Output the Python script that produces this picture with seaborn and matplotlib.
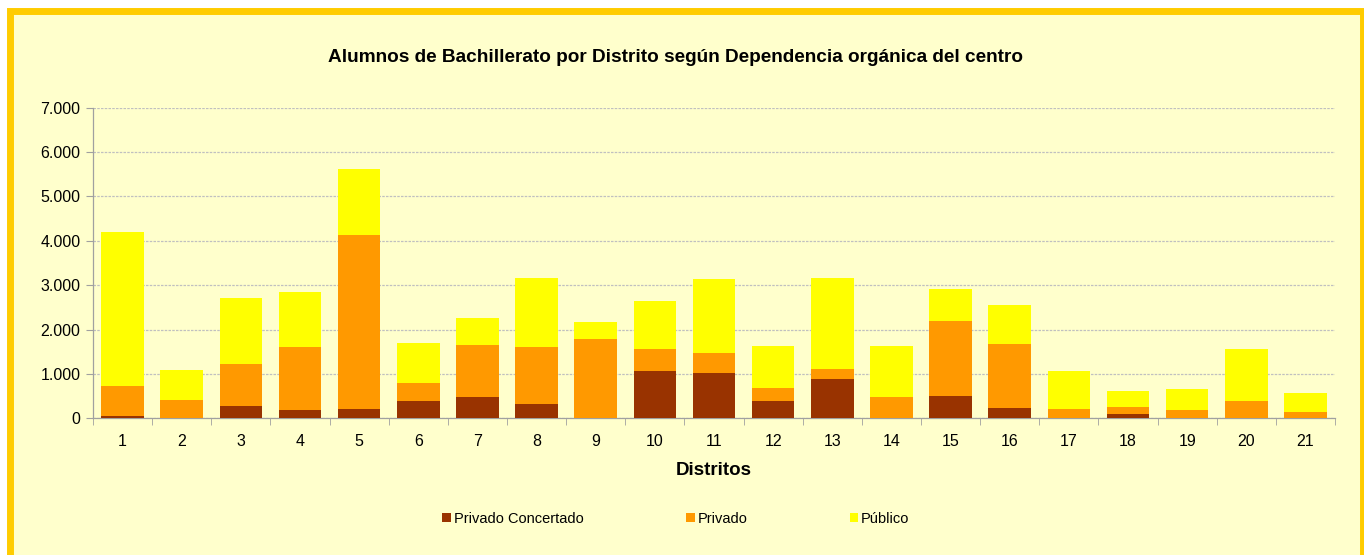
import numpy as np
import pandas as pd
import matplotlib
matplotlib.use("Agg")
import matplotlib.pyplot as plt
import seaborn as sns
from matplotlib.patches import Rectangle, Patch
from matplotlib.ticker import FuncFormatter, FixedLocator

distritos = [str(i) for i in range(1, 22)]
concertado = [60, 0, 285, 195, 200, 390, 480, 320, 0, 1075, 1030, 400, 895, 0, 510, 240, 0, 105, 0, 0, 0]
privado = [660, 420, 940, 1405, 3925, 405, 1180, 1290, 1795, 495, 435, 290, 215, 488, 1690, 1435, 218, 150, 180, 390, 135]
publico = [3480, 670, 1490, 1240, 1500, 900, 600, 1555, 370, 1075, 1675, 935, 2050, 1142, 720, 880, 850, 355, 480, 1172, 430]

colors = {"Privado Concertado": "#993300", "Privado": "#FF9900", "Público": "#FFFF00"}
bg = "#FFFFCC"

df = pd.DataFrame({"distrito": distritos,
                   "concertado": concertado,
                   "privado": privado,
                   "publico": publico})
df["c1"] = df["concertado"]
df["c2"] = df["c1"] + df["privado"]
df["c3"] = df["c2"] + df["publico"]

plt.rcParams["font.family"] = ["Liberation Sans", "DejaVu Sans"]

fig = plt.figure(figsize=(13.64, 5.55), dpi=100, facecolor="white")
W, H = 1364, 555
frame = Rectangle((9.5 / W, -5 / H), (1362.5 - 9.5) / W, (H - 10.5 + 5) / H,
                  transform=fig.transFigure, facecolor=bg, edgecolor="#FFCC00",
                  linewidth=5.0, zorder=-10)
fig.patches.append(frame)

ax = fig.add_axes([93 / W, 1 - 418.3 / H, (1335 - 93) / W, (418.3 - 107.7) / H])
ax.set_zorder(5)
ax.set_facecolor(bg)

# stacked bars drawn back to front from cumulative totals
for col, name in [("c3", "Público"), ("c2", "Privado"), ("c1", "Privado Concertado")]:
    sns.barplot(data=df, x="distrito", y=col, order=distritos, color=colors[name],
                width=0.72, saturation=1, ax=ax, zorder=3, linewidth=0)

ax.set_xlim(-0.5, 20.5)
ax.set_ylim(0, 7000)
ax.set_yticks(np.arange(0, 7001, 1000))
ax.yaxis.set_major_formatter(FuncFormatter(lambda v, p: f"{int(v):,}".replace(",", ".")))
ax.grid(axis="y", color="#C0C0C0", linewidth=0.9, linestyle=(0, (2, 1)), zorder=0)
ax.set_axisbelow(True)

ax.xaxis.set_minor_locator(FixedLocator(np.arange(-0.5, 21, 1)))
ax.tick_params(axis="x", which="major", length=0, pad=11, labelsize=11.5, labelcolor="#000000")
ax.tick_params(axis="x", which="minor", length=5, color="#A0A0A0")
ax.tick_params(axis="y", length=5, color="#A0A0A0", labelsize=11.5, pad=4, labelcolor="#000000")

for s in ["top", "right"]:
    ax.spines[s].set_visible(False)
for s in ["left", "bottom"]:
    ax.spines[s].set_color("#A0A0A0")
    ax.spines[s].set_linewidth(0.9)

ax.set_ylabel("")
ax.set_xlabel("Distritos", fontsize=13.5, fontweight="bold", labelpad=10)

fig.text(675 / W, 1 - 57 / H, "Alumnos de Bachillerato por Distrito según Dependencia orgánica del centro",
         ha="center", va="center", fontsize=13.7, fontweight="bold")

handles = [Patch(facecolor=colors[n], edgecolor="none", label=n) for n in colors]
fig.legend(handles=handles, loc="center", bbox_to_anchor=(676 / W, 1 - 519 / H), ncol=3,
           frameon=False, fontsize=10.5, handlelength=0.6, handleheight=0.6,
           handletextpad=0.2, columnspacing=7.0)

fig.savefig("out.png", dpi=100, facecolor=fig.get_facecolor())
